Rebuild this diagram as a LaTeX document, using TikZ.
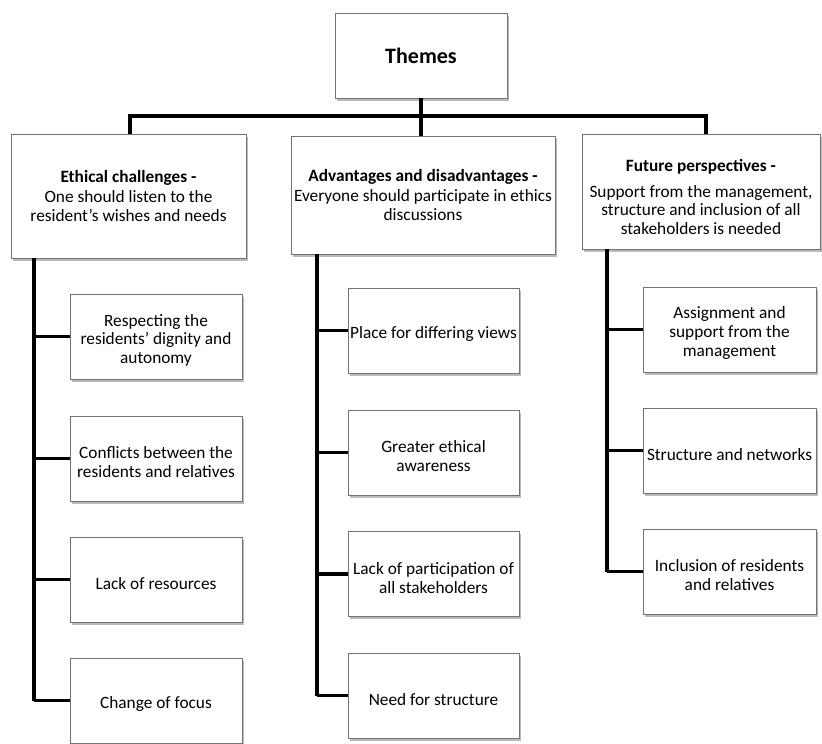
\documentclass[tikz,border=0pt]{standalone}
\usepackage{fontspec}
\setmainfont{Carlito}
\usetikzlibrary{shadows}
\newcommand\tstr{\rule{0pt}{19.5pt}}
\begin{document}
\begin{tikzpicture}[x=1pt,y=-1pt,
  box/.style={draw=black!55, line width=0.9pt, fill=white, rectangle, inner sep=0pt,
    align=center, font=\fontsize{17.3}{18.8}\selectfont,
    drop shadow={shadow xshift=2pt, shadow yshift=-2.5pt, fill=black!45, opacity=0.6}},
  child/.style={box, minimum height=85pt},
  conn/.style={draw=black, line width=3.2pt, line cap=butt}]
\useasboundingbox (0,0) rectangle (822,744);
% top
\node[box, minimum width=172pt, minimum height=85pt, font=\fontsize{22}{24}\selectfont\bfseries] (T) at (421,55.5) {Themes};
% level 1
\node[box, minimum width=235pt, minimum height=124pt] (A) at (128.5,196)
  {\textbf{Ethical challenges -}\\[0.5pt]One should listen to the\\resident’s wishes and needs};
\node[box, minimum width=264pt, minimum height=118pt] (B) at (423,195)
  {\textbf{Advantages and disadvantages -}\\[0.5pt]Everyone should participate in ethics\\discussions};
\node[box, minimum width=238pt, minimum height=115pt] (C) at (701,191.5)
  {\rule{0pt}{23pt}\textbf{Future perspectives -}\\[7pt]Support from the management,\\structure and inclusion of all\\stakeholders is needed};
% children A
\node[child, minimum width=172pt] (A1) at (156,336.5) {\tstr Respecting the\\residents’ dignity and\\autonomy};
\node[child, minimum width=172pt] (A2) at (156,458.5) {\tstr Conflicts between the\\residents and relatives};
\node[child, minimum width=172pt] (A3) at (156,579.5) {\tstr Lack of resources};
\node[child, minimum width=172pt] (A4) at (156,700.5) {\tstr Change of focus};
% children B
\node[child, minimum width=171pt] (B1) at (433.5,330.5) {\tstr Place for differing views};
\node[child, minimum width=171pt] (B2) at (433.5,452.5) {\tstr Greater ethical\\awareness};
\node[child, minimum width=171pt] (B3) at (433.5,574) {\tstr Lack of participation of\\all stakeholders};
\node[child, minimum width=171pt] (B4) at (433.5,695.5) {\tstr Need for structure};
% children C
\node[child, minimum width=173pt] (C1) at (729.5,329.5) {\tstr Assignment and\\support from the\\management};
\node[child, minimum width=173pt] (C2) at (729.5,450.5) {\tstr Structure and networks};
\node[child, minimum width=173pt] (C3) at (729.5,571.5) {\tstr Inclusion of residents\\and relatives};
% bus coordinates
\coordinate (bus) at (421,116);
\coordinate (Ab) at (34,0);
\coordinate (Bb) at (317,0);
\coordinate (Cb) at (607,0);
% top connectors
\draw[conn] (T.south) -- (bus);
\draw[conn] (bus) -| ([xshift=1.5pt]A.north);
\draw[conn] (bus) -| (T.south |- B.north);
\draw[conn] (bus) -| ([xshift=5pt]C.north);
% vertical buses
\draw[conn] (A.south -| Ab) -- (A4.west -| Ab);
\draw[conn] (B.south -| Bb) -- (B4.west -| Bb);
\draw[conn] (C.south -| Cb) -- (C3.west -| Cb);
% branches
\foreach \n in {A1,A2,A3,A4}{\draw[conn] (\n.west -| Ab) -- (\n.west);}
\foreach \n in {B1,B2,B3,B4}{\draw[conn] (\n.west -| Bb) -- (\n.west);}
\foreach \n in {C1,C2,C3}{\draw[conn] (\n.west -| Cb) -- (\n.west);}
\end{tikzpicture}
\end{document}
